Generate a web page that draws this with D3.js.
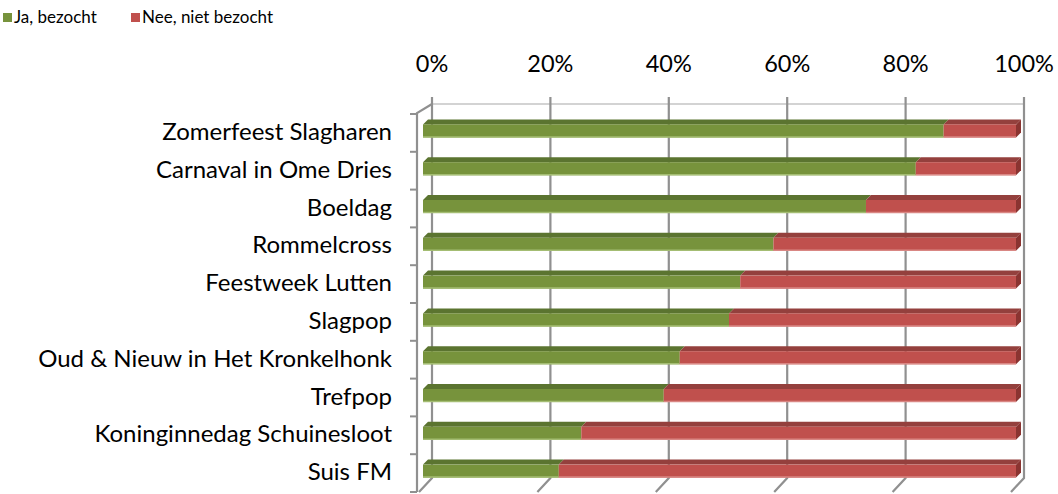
<!DOCTYPE html>
<html lang="nl">
<head>
    <meta charset="UTF-8">
    <title>Evenementen bezocht</title>
    <script src="https://d3js.org/d3.v7.min.js"></script>
    <style>
        body { margin: 0; background: #fff; }
        svg { display: block; font-family: Lato, "Open Sans", sans-serif; }
        .cat-label { font-size: 24px; fill: #000; text-anchor: end; }
        .tick-label { font-size: 23.5px; fill: #000; text-anchor: middle; }
        .legend-label { font-size: 17px; fill: #000; }
    </style>
</head>
<body>
    <svg id="chart"></svg>

    <script>
        // Data (percentage of respondents)
        const categories = [
            "Zomerfeest Slagharen",
            "Carnaval in Ome Dries",
            "Boeldag",
            "Rommelcross",
            "Feestweek Lutten",
            "Slagpop",
            "Oud & Nieuw in Het Kronkelhonk",
            "Trefpop",
            "Koninginnedag Schuinesloot",
            "Suis FM"
        ];
        const bezocht = [87.8, 83.1, 74.7, 59.1, 53.5, 51.6, 43.3, 40.6, 26.7, 22.9];
        const nietBezocht = [12.2, 16.9, 25.3, 40.9, 46.5, 48.4, 56.7, 59.4, 73.3, 77.1];
        const seriesNames = ["Ja, bezocht", "Nee, niet bezocht"];
        const tickValues = [0, 0.2, 0.4, 0.6, 0.8, 1];

        const width = 1058;
        const height = 494;

        const colors = {
            front: ["#77933c", "#c0504d"],
            top: ["#5b7430", "#94403d"],
            side: ["#5b7430", "#8a3431"]
        };

        const svg = d3.select("#chart")
            .attr("width", width)
            .attr("height", height);

        // table for stacking
        const table = categories.map((c, i) => ({
            cat: c,
            [seriesNames[0]]: bezocht[i],
            [seriesNames[1]]: nietBezocht[i]
        }));

        const stack = d3.stack()
            .keys(seriesNames)
            .offset(d3.stackOffsetExpand);
        const stacked = stack(table);

        // back wall scale and front (bar face) scale
        const xBack = d3.scaleLinear().domain([0, 1]).range([432, 1024]);
        const xFront = d3.scaleLinear().domain([0, 1]).range([423, 1016]);

        const y = d3.scaleBand()
            .domain(categories)
            .range([114, 492]);

        const depth = 5;      // bar depth offset
        const faceH = 13;     // bar front face height
        const wallTop = 104, wallBottom = 478;
        const floorDx = -13, floorDy = 14;

        // grid: back wall verticals + floor diagonals
        const grid = svg.append("g");
        grid.append("line")
            .attr("x1", xBack(0)).attr("x2", xBack(1))
            .attr("y1", wallTop).attr("y2", wallTop)
            .attr("stroke", "#c4c4c4").attr("stroke-width", 1.5);

        grid.selectAll(".gl")
            .data(tickValues)
            .enter()
            .append("polyline")
            .attr("points", d => [
                [xBack(d), 97],
                [xBack(d), wallBottom],
                [xBack(d) + floorDx, wallBottom + floorDy]
            ].join(" "))
            .attr("fill", "none")
            .attr("stroke", "#909090")
            .attr("stroke-width", 2.2);

        // left (category) axis
        const leftX = 417;
        grid.append("polyline")
            .attr("points", [[xBack(0), wallTop], [leftX, 113], [leftX, 492]].join(" "))
            .attr("fill", "none")
            .attr("stroke", "#909090")
            .attr("stroke-width", 2.2);

        const bounds = categories.map(c => y(c)).concat([y.range()[1]]);
        grid.selectAll(".ytick")
            .data(bounds)
            .enter()
            .append("line")
            .attr("x1", 410).attr("x2", leftX)
            .attr("y1", d => d).attr("y2", d => d)
            .attr("stroke", "#909090")
            .attr("stroke-width", 2);

        // top axis labels
        svg.selectAll(".tick-label")
            .data(tickValues)
            .enter()
            .append("text")
            .attr("class", "tick-label")
            .attr("x", d => xBack(d))
            .attr("y", 72)
            .text(d3.format(".0%"));

        // category labels
        svg.selectAll(".cat-label")
            .data(categories)
            .enter()
            .append("text")
            .attr("class", "cat-label")
            .attr("x", 392)
            .attr("y", d => y(d) + y.bandwidth() / 2 + 7)
            .text(d => d);

        // bars
        const faceTop = c => y(c) + y.bandwidth() / 2 - 8.5;

        stacked.forEach((s, si) => {
            const g = svg.append("g");

            // top face
            g.selectAll("polygon.top")
                .data(s)
                .enter()
                .append("polygon")
                .attr("points", d => {
                    const t = faceTop(d.data.cat);
                    const x0 = xFront(d[0]), x1 = xFront(d[1]);
                    return [[x0, t], [x0 + depth, t - depth], [x1 + depth, t - depth], [x1, t]].join(" ");
                })
                .attr("fill", colors.top[si]);

            // front face
            g.selectAll("rect.front")
                .data(s)
                .enter()
                .append("rect")
                .attr("x", d => xFront(d[0]))
                .attr("y", d => faceTop(d.data.cat))
                .attr("width", d => xFront(d[1]) - xFront(d[0]))
                .attr("height", faceH)
                .attr("fill", colors.front[si]);

            // light lower edge
            g.selectAll("line.edge")
                .data(s)
                .enter()
                .append("line")
                .attr("x1", d => xFront(d[0]))
                .attr("x2", d => xFront(d[1]))
                .attr("y1", d => faceTop(d.data.cat) + faceH - 0.5)
                .attr("y2", d => faceTop(d.data.cat) + faceH - 0.5)
                .attr("stroke", si === 0 ? "#a4bd73" : "#d98784")
                .attr("stroke-width", 1.5);

            // right side face for the last series
            if (si === stacked.length - 1) {
                g.selectAll("polygon.side")
                    .data(s)
                    .enter()
                    .append("polygon")
                    .attr("points", d => {
                        const t = faceTop(d.data.cat);
                        const x1 = xFront(d[1]);
                        return [[x1, t], [x1 + depth, t - depth], [x1 + depth, t + faceH - depth], [x1, t + faceH]].join(" ");
                    })
                    .attr("fill", colors.side[si]);
            }
        });

        // legend
        const legend = svg.append("g");
        const legendX = [3, 131];
        seriesNames.forEach((name, i) => {
            legend.append("rect")
                .attr("x", legendX[i])
                .attr("y", 13)
                .attr("width", 9)
                .attr("height", 9)
                .attr("fill", colors.front[i]);
            legend.append("text")
                .attr("class", "legend-label")
                .attr("x", legendX[i] + 11)
                .attr("y", 23)
                .text(name);
        });
    </script>
</body>
</html>
